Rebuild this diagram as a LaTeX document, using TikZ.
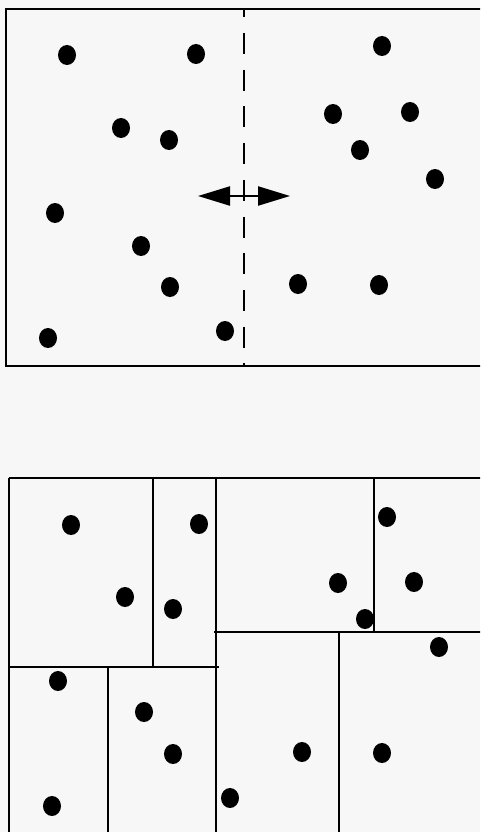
\documentclass[tikz,border=0pt]{standalone}
\usetikzlibrary{arrows.meta,shapes.geometric}
\begin{document}
\begin{tikzpicture}[x=1pt,y=-1pt,
  dot/.style={ellipse,fill=black,inner sep=0pt,minimum width=18pt,minimum height=20pt},
  frame/.style={line width=2.4pt},
  cell/.style={line width=1.8pt},
  cut/.style={line width=2.2pt,dash pattern=on 21pt off 15.7pt,dash phase=12.7pt},
  move/.style={line width=2.2pt,{Triangle[length=32pt,width=19pt]}-{Triangle[length=32pt,width=19pt]}}]
\fill[white!97!black] (0,0) rectangle (480,832);
\useasboundingbox (0,0) rectangle (480,832);
\clip (0,0) rectangle (480,832);
% top panel
\draw[frame] (6,9) rectangle (486,366);
\draw[cut] (244,9) -- (244,366);
\coordinate (al) at (198,196);
\coordinate (ar) at (290,196);
\draw[move] (al) -- (ar);
\foreach \n/\x/\y in {t1/67/55,t2/196/54,t3/382/46,t4/121/128,t5/169/140,t6/333/114,t7/410/112,t8/360/150,t9/435/179,t10/55/213,t11/141/246,t12/170/287,t13/298/284,t14/379/285,t15/48/338,t16/225/331}
  \node[dot] (\n) at (\x,\y) {};
% bottom panel
\draw[frame] (9,478) -- (486,478);
\draw[frame] (9,478) -- (9,840);
\draw[cell] (153,478) -- (153,667);
\draw[cell] (9,667) -- (219,667);
\draw[cell] (108,667) -- (108,840);
\draw[cell] (216,478) -- (216,840);
\draw[cell] (374,478) -- (374,632);
\draw[cell] (214,632) -- (486,632);
\draw[cell] (339,632) -- (339,840);
\foreach \n/\x/\y in {b1/71/525,b2/199/524,b3/387/517,b4/125/597,b5/173/609,b6/338/583,b7/414/582,b8/365/619,b9/439/647,b10/58/681,b11/144/712,b12/173/754,b13/302/752,b14/382/753,b15/52/806,b16/230/798}
  \node[dot] (\n) at (\x,\y) {};
\end{tikzpicture}
\end{document}
